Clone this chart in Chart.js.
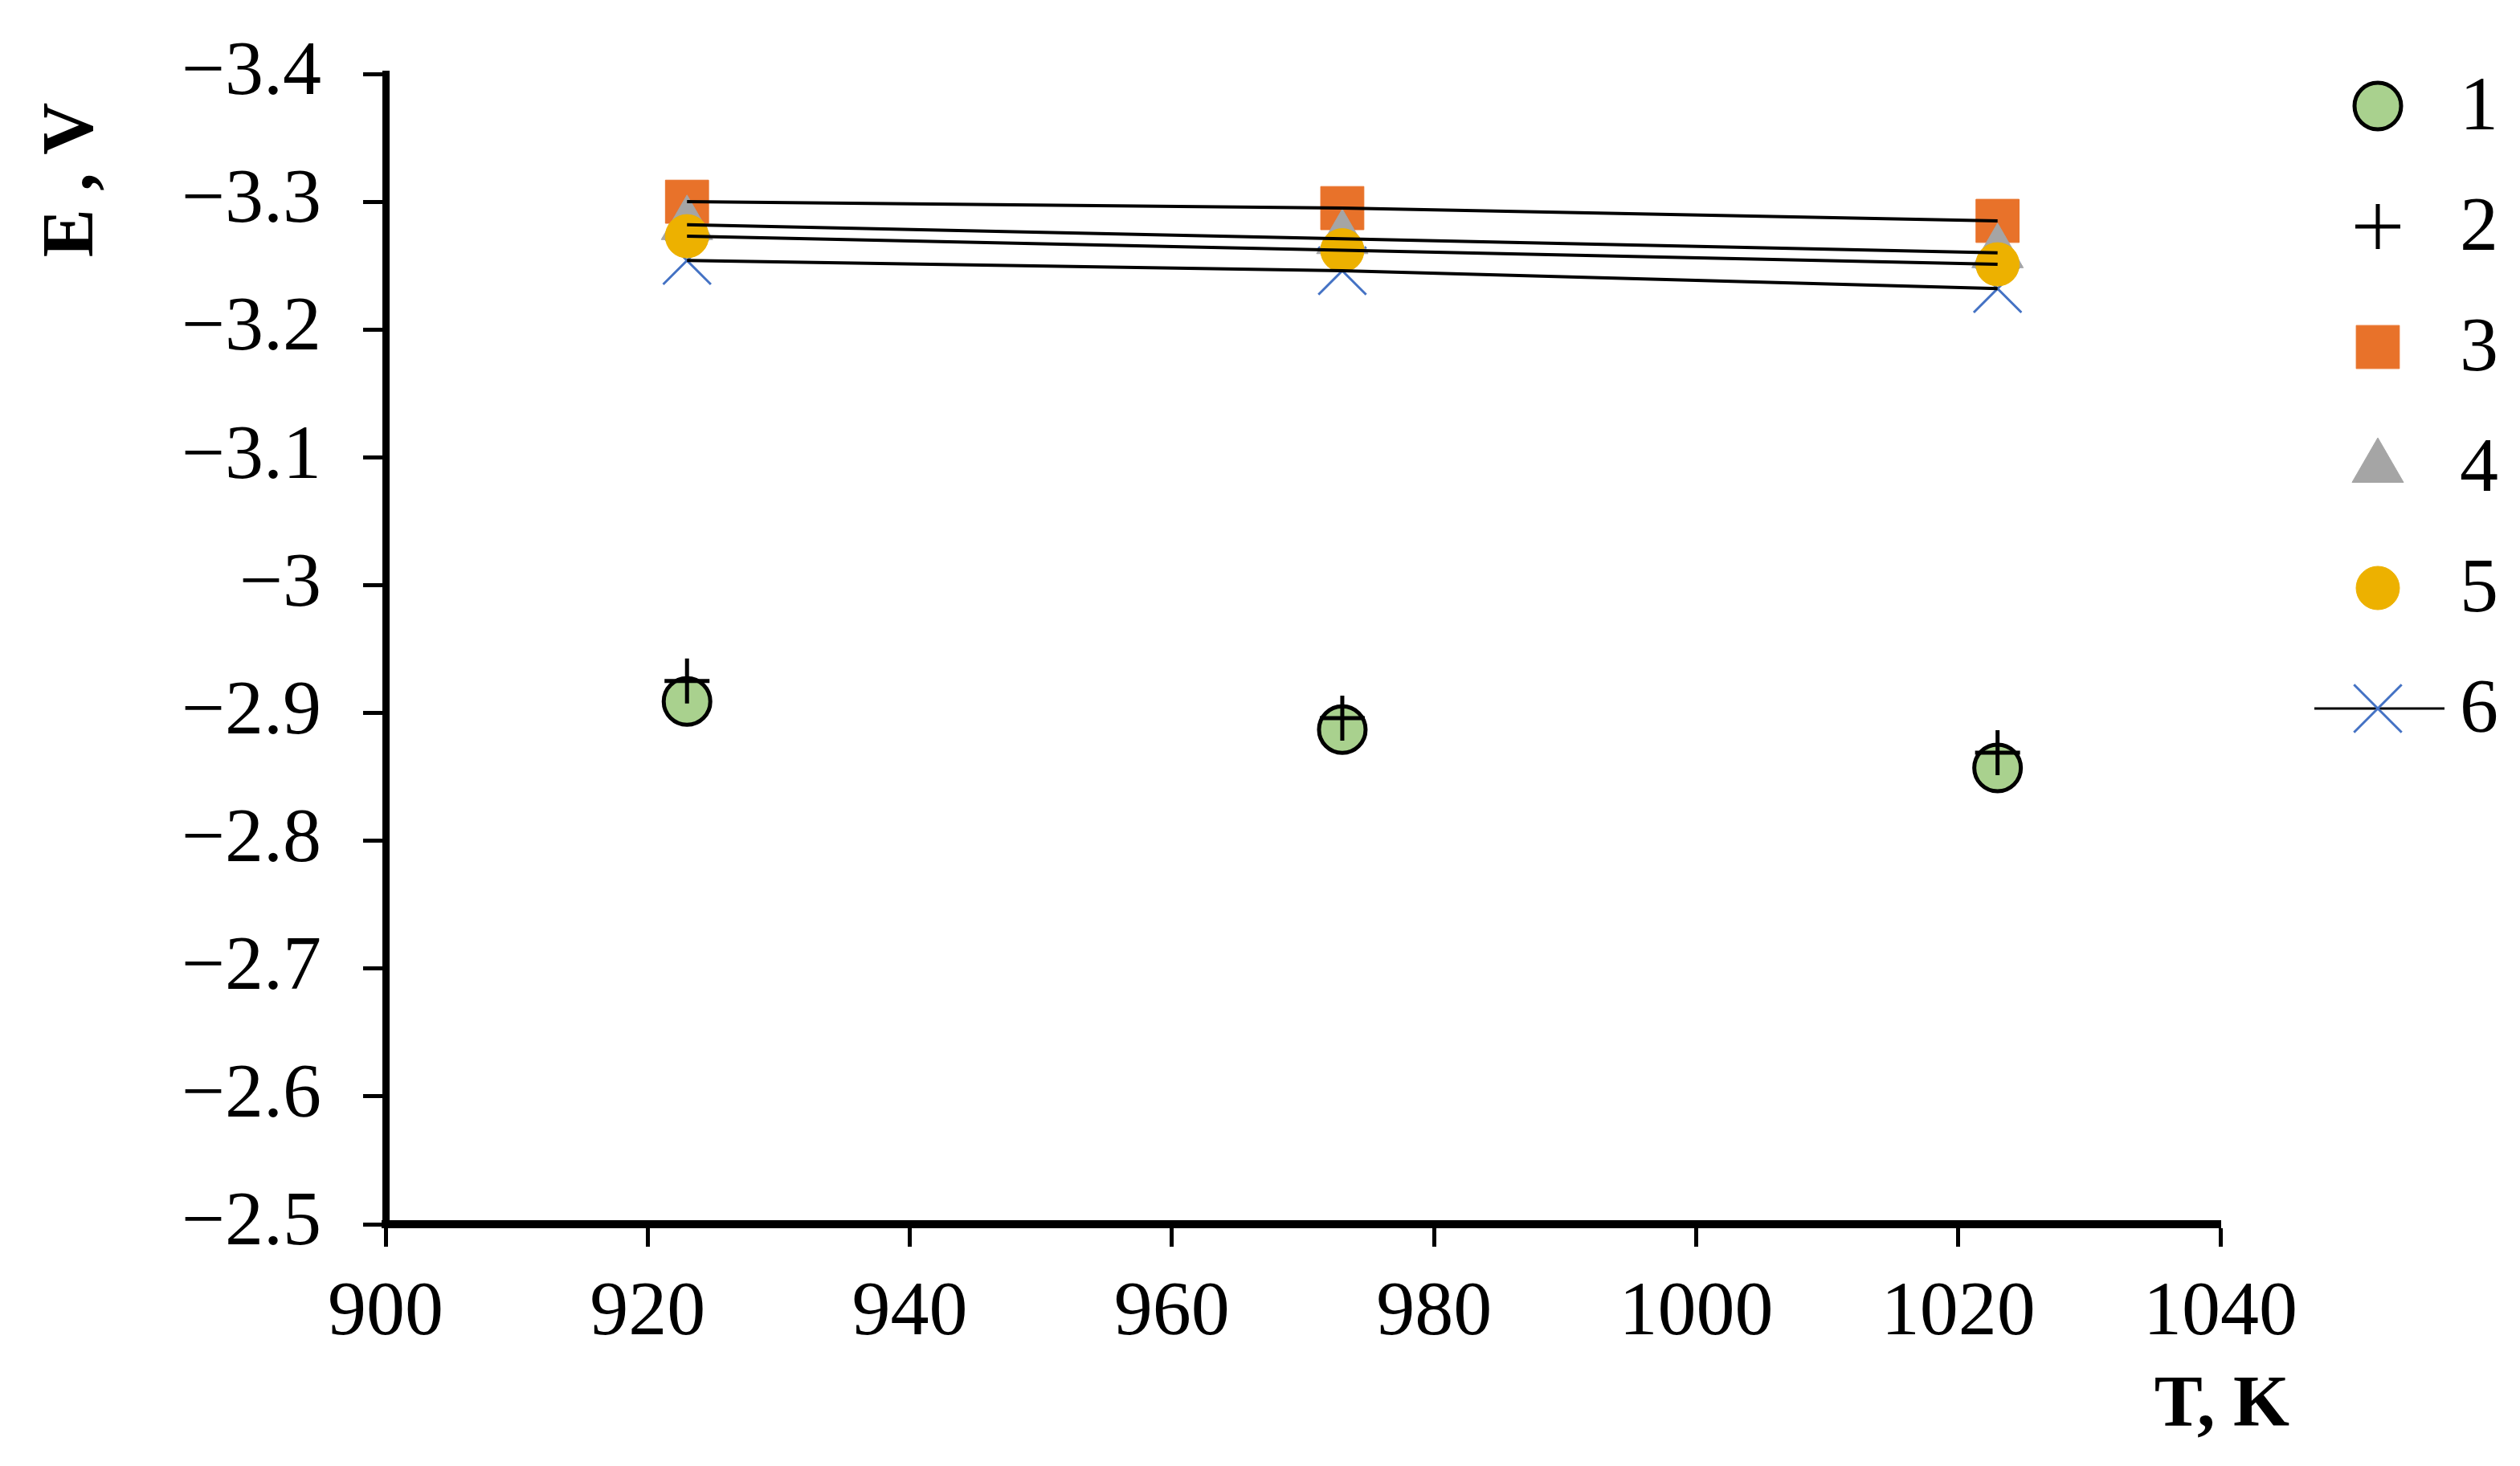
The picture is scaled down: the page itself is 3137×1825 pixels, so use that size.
<!DOCTYPE html>
<html lang="en">
<head>
<meta charset="UTF-8">
<title>E vs T</title>
<script src="https://cdn.jsdelivr.net/npm/chart.js"></script>
<style>
  html, body { margin: 0; padding: 0; background: #fff; }
  .chart-wrapper { position: relative; width: 3137px; height: 1825px; }
</style>
</head>
<body>
<div class="chart-wrapper"><canvas id="emfPlot"></canvas></div>
<script>
// temperatures, K
const temps = [923, 973, 1023];

// E, V for each series
const s1 = [-2.909, -2.887, -2.857];
const s2 = [-2.925, -2.896, -2.869];
const s3 = [-3.300, -3.295, -3.285];
const s4 = [-3.282, -3.271, -3.260];
const s5 = [-3.273, -3.262, -3.251];
const s6 = [-3.254, -3.246, -3.232];

const seriesNames = ['1', '2', '3', '4', '5', '6'];

const xTicks = [900, 920, 940, 960, 980, 1000, 1020, 1040];
const xTickLabels = ['900', '920', '940', '960', '980', '1000', '1020', '1040'];
const yTicks = [-3.4, -3.3, -3.2, -3.1, -3.0, -2.9, -2.8, -2.7, -2.6, -2.5];
const yTickLabels = ['\u22123.4', '\u22123.3', '\u22123.2', '\u22123.1', '\u22123',
                     '\u22122.9', '\u22122.8', '\u22122.7', '\u22122.6', '\u22122.5'];

const serif = "'Liberation Serif', 'Times New Roman', serif";

// marker look per series
const markerStyles = [
    { pointStyle: 'circle',   radius: 29, bg: '#A9D18E', border: '#000000', bw: 5 },
    { pointStyle: 'cross',    radius: 28, bg: '#000000', border: '#000000', bw: 5 },
    { pointStyle: 'rect',     radius: 38, bg: '#E8722A', border: '#E8722A', bw: 1 },
    { pointStyle: 'triangle', radius: 37, bg: '#A5A5A5', border: '#A5A5A5', bw: 1 },
    { pointStyle: 'circle',   radius: 27, bg: '#EDB100', border: '#EDB100', bw: 1 },
    { pointStyle: 'crossRot', radius: 42, bg: '#4472C4', border: '#4472C4', bw: 3 }
];
// smaller order = drawn on top
const drawOrder = [5, 4, 3, 2, 1, 6];

const allSeries = [s1, s2, s3, s4, s5, s6];

const toPoints = vals => temps.map((t, j) => ({ x: t, y: vals[j] }));

const datasets = allSeries.map((vals, i) => ({
    label: seriesNames[i],
    data: toPoints(vals),
    showLine: false,
    pointStyle: markerStyles[i].pointStyle,
    pointRadius: markerStyles[i].radius,
    pointBackgroundColor: markerStyles[i].bg,
    pointBorderColor: markerStyles[i].border,
    pointBorderWidth: markerStyles[i].bw,
    order: drawOrder[i],
    clip: false
}));

// thin black lines for series 3-6, drawn over the markers
[2, 3, 4, 5].forEach(i => {
    datasets.push({
        label: 'line' + seriesNames[i],
        data: toPoints(allSeries[i]),
        showLine: true,
        borderColor: '#000000',
        borderWidth: 4,
        pointRadius: 0,
        fill: false,
        tension: 0,
        order: 0,
        clip: false
    });
});

function drawMarker(ctx, st, x, y) {
    const r = st.radius;
    ctx.save();
    ctx.fillStyle = st.bg;
    ctx.strokeStyle = st.border;
    ctx.lineWidth = st.bw;
    ctx.beginPath();
    if (st.pointStyle === 'circle') {
        ctx.arc(x, y, r, 0, Math.PI * 2);
        ctx.fill();
        ctx.stroke();
    } else if (st.pointStyle === 'rect') {
        const h = r * Math.SQRT1_2;
        ctx.rect(x - h, y - h, 2 * h, 2 * h);
        ctx.fill();
        ctx.stroke();
    } else if (st.pointStyle === 'triangle') {
        ctx.moveTo(x, y - r);
        ctx.lineTo(x + r * Math.sin(Math.PI * 2 / 3), y + r / 2);
        ctx.lineTo(x - r * Math.sin(Math.PI * 2 / 3), y + r / 2);
        ctx.closePath();
        ctx.fill();
        ctx.stroke();
    } else if (st.pointStyle === 'cross') {
        ctx.moveTo(x - r, y); ctx.lineTo(x + r, y);
        ctx.moveTo(x, y - r); ctx.lineTo(x, y + r);
        ctx.stroke();
    } else if (st.pointStyle === 'crossRot') {
        const d = r * Math.SQRT1_2;
        ctx.moveTo(x - d, y - d); ctx.lineTo(x + d, y + d);
        ctx.moveTo(x - d, y + d); ctx.lineTo(x + d, y - d);
        ctx.stroke();
    }
    ctx.restore();
}

// legend on the right + axis titles
const decorPlugin = {
    id: 'decor',
    afterDraw(chart) {
        const ctx = chart.ctx;
        ctx.save();
        // legend
        const mx = 2960, tx = 3062, y0 = 132, dy = 150;
        seriesNames.forEach((name, i) => {
            const y = y0 + i * dy;
            if (i === 5) {
                ctx.strokeStyle = '#000';
                ctx.lineWidth = 3;
                ctx.beginPath();
                ctx.moveTo(2881, y);
                ctx.lineTo(3043, y);
                ctx.stroke();
            }
            drawMarker(ctx, markerStyles[i], mx, y);
            ctx.fillStyle = '#000';
            ctx.font = '96px ' + serif;
            ctx.textAlign = 'left';
            ctx.textBaseline = 'middle';
            ctx.fillText(name, tx, y + 4);
        });
        // y title
        ctx.font = 'bold 90px ' + serif;
        ctx.fillStyle = '#000';
        ctx.translate(92, 224);
        ctx.rotate(-Math.PI / 2);
        ctx.textAlign = 'center';
        ctx.textBaseline = 'middle';
        ctx.fillText('E , V', 0, 0);
        ctx.restore();
        // x title
        ctx.save();
        ctx.font = 'bold 90px ' + serif;
        ctx.fillStyle = '#000';
        ctx.textAlign = 'right';
        ctx.textBaseline = 'middle';
        ctx.fillText('T, K', 2850, 1752);
        ctx.restore();
    }
};

const ctx = document.getElementById('emfPlot').getContext('2d');
new Chart(ctx, {
    type: 'scatter',
    data: { datasets: datasets },
    plugins: [decorPlugin],
    options: {
        responsive: true,
        maintainAspectRatio: false,
        devicePixelRatio: 1,
        animation: false,
        layout: { padding: { top: 92, right: 373, bottom: 0, left: 0 } },
        plugins: {
            legend: { display: false },
            tooltip: { enabled: false }
        },
        scales: {
            x: {
                type: 'linear',
                min: 900,
                max: 1040,
                afterBuildTicks: s => { s.ticks = xTicks.map(v => ({ value: v })); },
                afterFit: s => { s.height = 301; s.paddingLeft = 0; s.paddingRight = 0; },
                ticks: {
                    callback: (v, i) => xTickLabels[i],
                    font: { family: serif, size: 96 },
                    color: '#000',
                    padding: 26,
                    maxRotation: 0,
                    autoSkip: false
                },
                grid: {
                    drawOnChartArea: false,
                    drawTicks: true,
                    tickLength: 28,
                    tickWidth: 5,
                    tickColor: '#000'
                },
                border: { display: true, color: '#000', width: 10 }
            },
            y: {
                type: 'linear',
                reverse: true,
                min: -3.4,
                max: -2.5,
                afterBuildTicks: s => { s.ticks = yTicks.map(v => ({ value: v })); },
                afterFit: s => { s.width = 480; s.paddingTop = 0; s.paddingBottom = 0; },
                ticks: {
                    callback: (v, i) => yTickLabels[i],
                    font: { family: serif, size: 96 },
                    color: '#000',
                    padding: 52,
                    autoSkip: false
                },
                grid: {
                    drawOnChartArea: false,
                    drawTicks: true,
                    tickLength: 28,
                    tickWidth: 5,
                    tickColor: '#000'
                },
                border: { display: true, color: '#000', width: 9 }
            }
        }
    }
});
</script>
</body>
</html>
